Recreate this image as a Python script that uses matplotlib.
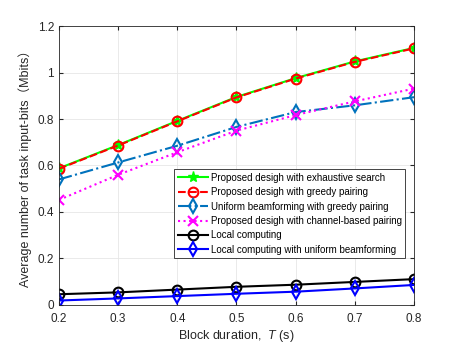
import matplotlib
matplotlib.use('Agg')
import matplotlib.pyplot as plt
from matplotlib.ticker import FuncFormatter

plt.rcParams['font.family'] = ['Liberation Sans', 'Noto Sans CJK SC']
plt.rcParams['font.size'] = 8
plt.rcParams['mathtext.fontset'] = 'custom'
plt.rcParams['mathtext.it'] = 'Liberation Sans:italic'

T = [0.2, 0.3, 0.4, 0.5, 0.6, 0.7, 0.8]
exhaustive = [0.588, 0.688, 0.792, 0.895, 0.976, 1.048, 1.106]
greedy = [0.586, 0.686, 0.790, 0.893, 0.974, 1.046, 1.104]
uniform_greedy = [0.540, 0.613, 0.685, 0.766, 0.830, 0.859, 0.894]
channel_based = [0.452, 0.560, 0.657, 0.750, 0.817, 0.876, 0.931]
local = [0.046, 0.054, 0.066, 0.078, 0.087, 0.099, 0.111]
local_uniform = [0.019, 0.028, 0.038, 0.048, 0.057, 0.071, 0.086]

labels = ['Proposed desigh with exhaustive search',
          'Proposed desigh with greedy pairing',
          'Uniform beamforming with greedy pairing',
          'Proposed desigh with channel-based pairing',
          'Local computing',
          'Local computing with uniform beamforming']

fig = plt.figure(figsize=(4.57, 3.43), dpi=100)
ax = fig.add_axes([0.129, 0.111, 0.777, 0.813])

ax.plot(T, exhaustive, '-*', color=(0, 1, 0), lw=1.5, ms=8, label=labels[0])
ax.plot(T, greedy, '--o', color='red', lw=1.5, ms=7, mfc='none', mew=1.5, label=labels[1])
ax.plot(T, uniform_greedy, '-.d', color=(0, 0.447, 0.741), lw=1.5, ms=7, mfc='none', mew=1.5, label=labels[2])
ax.plot(T, channel_based, ':x', color='magenta', lw=1.5, ms=7, mew=1.5, label=labels[3])
ax.plot(T, local, '-o', color='black', lw=1.5, ms=7, mfc='none', mew=1.5, label=labels[4])
ax.plot(T, local_uniform, '-d', color='blue', lw=1.5, ms=7, mfc='none', mew=1.5, label=labels[5])

ax.set_xlim(0.2, 0.8)
ax.set_ylim(0, 1.2)
ax.set_xticks(T)
ax.set_yticks([0, 0.2, 0.4, 0.6, 0.8, 1.0, 1.2])
ax.yaxis.set_major_formatter(FuncFormatter(lambda v, p: '%g' % round(v, 2)))
ax.grid(True, color='#e6e6e6', lw=0.6)
ax.set_axisbelow(True)
ax.tick_params(direction='in', top=True, right=True, labelsize=8.5, colors='#262626', length=3)
ax.tick_params(axis='x', pad=6)
for s in ax.spines.values():
    s.set_color('#262626')
    s.set_linewidth(0.6)

ax.set_xlabel('Block duration,  $T$ (s)', fontsize=9, color='#262626', labelpad=2)
ax.set_ylabel('Average number of task input-bits（Mbits）', fontsize=9, color='#262626')

leg = ax.legend(loc='lower right', bbox_to_anchor=(0.975, 0.168), fontsize=7.0,
                fancybox=False, edgecolor='#262626', framealpha=1,
                handlelength=3.1, handletextpad=0.3, borderpad=0.35,
                labelspacing=0.45, borderaxespad=0)
leg.get_frame().set_linewidth(0.6)

fig.savefig('out.png', dpi=100)
